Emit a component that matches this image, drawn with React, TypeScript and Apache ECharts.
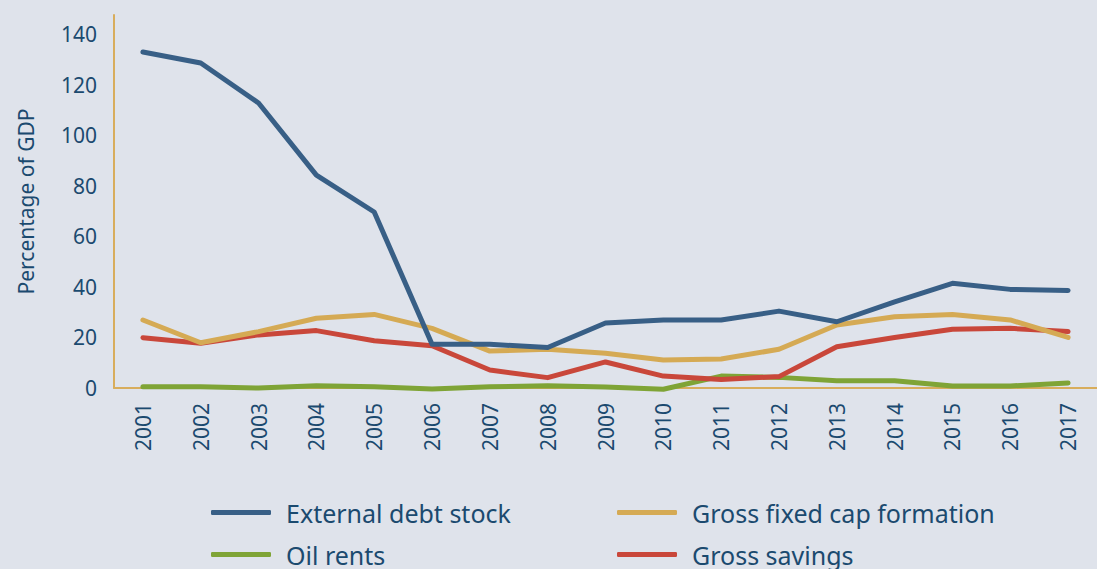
import React, { useEffect, useRef } from "react";
import * as echarts from "echarts";

const years = ["2001","2002","2003","2004","2005","2006","2007","2008","2009","2010","2011","2012","2013","2014","2015","2016","2017"];
const externalDebt = [132.9,128.5,112.7,84.2,69.6,17.3,17.3,16.0,25.7,26.9,26.9,30.4,26.2,34.1,41.4,39.0,38.6];
const grossFixedCap = [26.9,17.9,22.3,27.6,29.1,23.6,14.6,15.3,13.7,11.1,11.5,15.3,24.9,28.2,29.1,26.9,20.0];
const oilRents = [0.5,0.5,0.0,0.9,0.5,-0.4,0.5,0.9,0.4,-0.5,4.7,4.2,2.9,2.9,0.8,0.8,2.0];
const grossSavings = [19.9,17.7,21.0,22.7,18.7,16.7,7.1,4.1,10.3,4.7,3.4,4.5,16.3,20.0,23.2,23.6,22.3];

const legendItems = [
  { name: "External debt stock", left: 211, top: 500 },
  { name: "Gross fixed cap formation", left: 617, top: 500 },
  { name: "Oil rents", left: 211, top: 542 },
  { name: "Gross savings", left: 617, top: 542 },
];

const TEXT = "#1b4a6f";
const AXIS = "#d8ad5c";
const FONT = "Noto Sans";

export default function App() {
  const ref = useRef<HTMLDivElement>(null);
  useEffect(() => {
    if (!ref.current) return;
    const chart = echarts.init(ref.current, null, { renderer: "svg" });
    const mk = (name: string, data: number[], color: string) => ({
      name,
      type: "line",
      data,
      symbol: "none",
      clip: false,
      lineStyle: { color, width: 5, cap: "round", join: "round" },
      itemStyle: { color },
    });
    chart.setOption({
      animation: false,
      backgroundColor: "#dfe3eb",
      textStyle: { fontFamily: FONT, color: TEXT },
      grid: { left: 114, top: 15, width: 996, height: 373, containLabel: false },
      xAxis: {
        type: "category",
        data: years,
        boundaryGap: true,
        axisLine: { show: true, lineStyle: { color: AXIS, width: 2 } },
        axisTick: { show: false },
        axisLabel: { rotate: 90, color: TEXT, fontSize: 21, fontFamily: FONT, margin: 15 },
      },
      yAxis: {
        type: "value",
        min: 0,
        max: 147.5,
        interval: 20,
        name: "Percentage of GDP",
        nameLocation: "middle",
        nameGap: 78,
        nameTextStyle: { color: TEXT, fontSize: 21, fontFamily: FONT },
        axisLine: { show: true, lineStyle: { color: AXIS, width: 2 } },
        axisTick: { show: false },
        splitLine: { show: false },
        axisLabel: {
          color: TEXT,
          fontSize: 21,
          fontFamily: FONT,
          margin: 17,
          formatter: (v: number) => (Math.abs(v % 20) < 1e-6 ? String(v) : ""),
        },
      },
      legend: legendItems.map((it) => ({
        data: [it.name],
        left: it.left,
        top: it.top,
        padding: 0,
        itemWidth: 60,
        itemHeight: 5,
        icon: "roundRect",
        textStyle: { color: TEXT, fontSize: 25, fontFamily: FONT, padding: [0, 0, 0, 10] },
      })),
      series: [
        mk("Oil rents", oilRents, "#7fa436"),
        mk("Gross savings", grossSavings, "#c9473a"),
        mk("Gross fixed cap formation", grossFixedCap, "#d5aa54"),
        mk("External debt stock", externalDebt, "#385f86"),
      ],
    });
    return () => chart.dispose();
  }, []);
  return (
    <div
      ref={ref}
      style={{ position: "fixed", left: 0, top: 0, width: 1097, height: 569 }}
    />
  );
}
